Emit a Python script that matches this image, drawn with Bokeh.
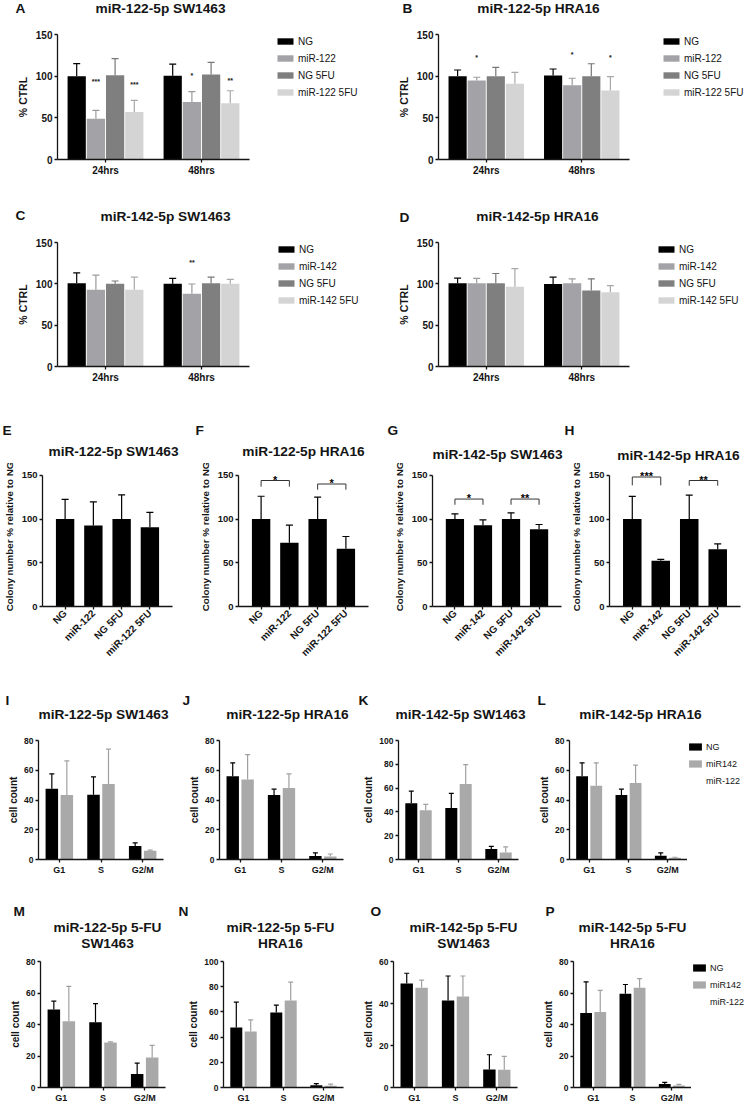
import math
from bokeh.plotting import figure
from bokeh.models import (FactorRange, Range1d, FixedTicker, ColumnDataSource,
                          Label, Legend, LegendItem)
from bokeh.transform import dodge
from bokeh.layouts import column, row
from bokeh.core.properties import value
from bokeh.embed import file_html
from bokeh.resources import INLINE

FONT = "Liberation Sans"
INK = "#141414"
TOTAL_W = 745
TS = 13.7  # title font size

# ======================= DATA =======================
time_groups = ["24hrs", "48hrs"]
series_122 = ["NG", "miR-122", "NG 5FU", "miR-122 5FU"]
series_142 = ["NG", "miR-142", "NG 5FU", "miR-142 5FU"]
series_colors = ["#000000", "#a3a3a7", "#7f7f7f", "#d4d4d4"]
whisker_colors = ["#000000", "#9b9b9f", "#777777", "#a9a9a9"]

# MTT panels (rows = series NG, miR, NG 5FU, miR 5FU ; columns = 24hrs, 48hrs)
A_mean = [[100, 100.5], [49, 69], [101, 102], [57, 67.5]]
A_upper = [[115, 114.5], [59, 81.5], [121, 116.5], [71, 82.5]]
A_star_group = ["24hrs", "24hrs", "48hrs", "48hrs"]
A_star_series = [1, 3, 1, 3]
A_star_text = ["***", "***", "*", "**"]
A_star_y = [93.5, 90, 100.5, 94.5]

B_mean = [[100, 100.7], [94.7, 89.2], [100, 100], [90.8, 82.9]]
B_upper = [[107.4, 108.6], [98.7, 97.5], [110.5, 114.9], [104.6, 99.5]]
B_star_group = ["24hrs", "48hrs", "48hrs"]
B_star_series = [1, 1, 3]
B_star_text = ["*", "*", "*"]
B_star_y = [123, 126, 122.5]

C_mean = [[100.6, 100.2], [92.7, 88], [100.2, 100.6], [92.7, 100.2]]
C_upper = [[113.2, 106.5], [110.5, 99.8], [103.4, 108.1], [108.1, 105.3]]
C_star_group = ["48hrs"]
C_star_series = [1]
C_star_text = ["**"]
C_star_y = [126]

D_mean = [[100.6, 99.8], [100.6, 100.6], [100.6, 91.9], [96.6, 89.9]]
D_upper = [[106.9, 108.1], [106.5, 106.1], [112.5, 106.1], [118.4, 97.8]]
D_star_group = []
D_star_series = []
D_star_text = []
D_star_y = []

# Colony panels
E_mean = [100, 92.5, 100, 90.6]
E_upper = [122.5, 119.5, 127.5, 107.5]
F_mean = [100, 73, 100, 66]
F_upper = [126, 93, 125, 80]
F_br_left = ["NG", "NG 5FU"]
F_br_right = ["miR-122", "miR-122 5FU"]
F_br_y = [144, 140]
F_br_drop = [137, 133.5]
F_br_text = ["*", "*"]
G_mean = [100, 92.9, 100, 88.3]
G_upper = [105.9, 99, 107.1, 93.7]
G_br_left = ["NG", "NG 5FU"]
G_br_right = ["miR-142", "miR-142 5FU"]
G_br_y = [122.8, 122.8]
G_br_drop = [116.3, 116.3]
G_br_text = ["*", "**"]
H_mean = [100, 52.3, 100, 65.3]
H_upper = [125.9, 53.8, 127.4, 71.5]
H_br_left = ["NG", "NG 5FU"]
H_br_right = ["miR-142", "miR-142 5FU"]
H_br_y = [148, 144]
H_br_drop = [138.5, 138]
H_br_text = ["***", "**"]

# Cell cycle panels
cycle_phases = ["G1", "S", "G2/M"]
cycle_legend = ["NG", "miR142", "miR-122"]
cycle_colors = ["#000000", "#a9a9a9"]
cycle_whiskers = ["#000000", "#a0a0a0"]
I_NG = [47.5, 43.5, 9.0]
I_NG_up = [57.5, 55.5, 11.2]
I_mir = [43.3, 50.8, 5.8]
I_mir_up = [66.3, 74.2, 6.3]
J_NG = [56.0, 43.3, 2.3]
J_NG_up = [65.0, 47.3, 4.5]
J_mir = [53.8, 48.0, 2.0]
J_mir_up = [70.5, 57.5, 3.7]
K_NG = [47.3, 43.3, 8.8]
K_NG_up = [57.5, 55.5, 11.0]
K_mir = [41.3, 63.5, 5.8]
K_mir_up = [46.3, 79.7, 10.6]
L_NG = [56.0, 43.3, 2.5]
L_NG_up = [65.0, 47.3, 4.5]
L_mir = [49.5, 51.5, 1.2]
L_mir_up = [65.0, 63.5, 1.5]
M_NG = [49.5, 41.5, 8.5]
M_NG_up = [54.8, 53.3, 15.5]
M_mir = [42.0, 28.5, 19.0]
M_mir_up = [64.2, 29.0, 26.7]
N_NG = [47.6, 59.6, 1.8]
N_NG_up = [67.8, 65.4, 3.1]
N_mir = [44.5, 69.0, 1.4]
N_mir_up = [53.6, 83.6, 2.6]
O_NG = [49.5, 41.4, 8.6]
O_NG_up = [54.4, 53.1, 15.6]
O_mir = [47.5, 43.3, 8.4]
O_mir_up = [51.1, 53.1, 14.8]
P_NG = [47.3, 59.5, 2.2]
P_NG_up = [67.1, 65.4, 3.3]
P_mir = [47.9, 63.4, 1.3]
P_mir_up = [61.7, 69.1, 2.0]

# ======================= HELPERS =======================
def make_fig(geom, factors, ymax, ystep, pad=0.0, tick_size="10px",
             xlab_size="10px", ylabel="", ylabel_size="10.5px", axis_top=None):
    w, h, left, right, top, bottom = geom
    p = figure(width=w, height=h,
               x_range=FactorRange(factors=list(factors), range_padding=pad,
                                   range_padding_units="absolute"),
               y_range=Range1d(0, ymax),
               min_border_left=left, min_border_right=right,
               min_border_top=top, min_border_bottom=bottom,
               output_backend="svg", toolbar_location=None, tools="")
    p.outline_line_color = None
    p.xgrid.visible = False
    p.ygrid.visible = False
    p.background_fill_color = "white"
    p.border_fill_color = "white"
    for ax in (p.xaxis[0], p.yaxis[0]):
        ax.axis_line_color = INK
        ax.axis_line_width = 1.3
        ax.major_tick_line_color = INK
        ax.major_tick_line_width = 1.3
        ax.major_tick_in = 0
        ax.major_tick_out = 3
        ax.minor_tick_line_color = None
        ax.major_label_text_font = FONT
        ax.major_label_text_font_style = "bold"
        ax.major_label_text_color = INK
        ax.major_label_standoff = 2
        ax.axis_label_text_font = FONT
        ax.axis_label_text_font_style = "bold"
        ax.axis_label_text_color = INK
    top_tick = ymax if axis_top is None else axis_top
    p.yaxis[0].ticker = FixedTicker(ticks=list(range(0, top_tick + 1, ystep)))
    p.yaxis[0].bounds = (0, top_tick)
    p.yaxis[0].major_label_text_font_size = tick_size
    p.xaxis[0].major_label_text_font_size = xlab_size
    p.yaxis[0].axis_label = ylabel
    p.yaxis[0].axis_label_text_font_size = ylabel_size
    p.yaxis[0].axis_label_standoff = 4
    return p


def blank_fig(w, h, left=0, top=0):
    p = figure(width=w, height=h, x_range=Range1d(0, 1), y_range=Range1d(0, 1),
               x_axis_type=None, y_axis_type=None,
               min_border_left=left, min_border_top=top,
               min_border_right=0, min_border_bottom=0,
               output_backend="svg", toolbar_location=None, tools="")
    p.outline_line_color = None
    p.background_fill_color = "white"
    p.border_fill_color = "white"
    return p


def header(h, items):
    """A strip above a row of charts holding panel letters and titles."""
    p = figure(width=TOTAL_W, height=h, x_range=Range1d(0, TOTAL_W), y_range=Range1d(h, 0),
               x_axis_type=None, y_axis_type=None, min_border=0,
               output_backend="svg", toolbar_location=None, tools="")
    p.outline_line_color = None
    p.background_fill_color = "white"
    p.border_fill_color = "white"
    for txt, x, y, size, align in items:
        p.add_layout(Label(x=x, y=y, text=txt, text_font=FONT, text_font_size=f"{size}px",
                           text_font_style="bold", text_align=align,
                           text_baseline="middle", text_color=INK))
    return p


def legend_fig(w, h, ox, oy, labels, colors, font_size, glyph_w, glyph_h, label_h, spacing):
    p = blank_fig(w, h, ox, oy)
    items = []
    for lab, col in zip(labels, colors):
        # swatch-only renderer: its single bar lies outside the (empty) frame range
        r = p.vbar(x=[5], top=[1], bottom=[0], width=0.1, fill_color=col, line_color=None)
        items.append(LegendItem(label=lab, renderers=[r]))
    lg = Legend(items=items, location="top_left", orientation="vertical",
                glyph_width=glyph_w, glyph_height=glyph_h, label_height=label_h,
                spacing=spacing, padding=0, margin=0, label_standoff=3,
                border_line_color=None, background_fill_alpha=0,
                label_text_font=FONT, label_text_font_size=font_size,
                label_text_color=INK)
    p.add_layout(lg)
    return p


def bars(p, cats, means, uppers, colors, wcolors, offsets, width, cap):
    for i in range(len(means)):
        src = ColumnDataSource(dict(c=list(cats), m=means[i], u=uppers[i]))
        xd = dodge("c", offsets[i], range=p.x_range)
        p.vbar(x=xd, top="m", bottom=0, width=width, source=src,
               fill_color=colors[i], line_color=None)
        p.segment(x0=xd, y0="m", x1=xd, y1="u", source=src,
                  line_color=wcolors[i], line_width=1.2)
        p.scatter(x=xd, y="u", source=src, marker="dash", size=cap,
                  line_color=wcolors[i], line_width=1.2)


four_offsets = [-0.3, -0.1, 0.1, 0.3]


def mtt_panel(geom, means, uppers, sg, ss, st, sy):
    p = make_fig(geom, time_groups, 150, 50, ylabel="% CTRL")
    bars(p, time_groups, means, uppers, series_colors, whisker_colors,
         four_offsets, 0.19, 7)
    for k in range(4):
        idx = [i for i in range(len(ss)) if ss[i] == k]
        if idx:
            src = ColumnDataSource(dict(c=[sg[i] for i in idx], y=[sy[i] for i in idx],
                                        t=[st[i] for i in idx]))
            p.text(x=dodge("c", four_offsets[k], range=p.x_range), y="y", text="t",
                   source=src, text_font=value(FONT), text_font_size=value("7px"),
                   text_font_style="bold", text_align="center", text_baseline="middle",
                   text_color=INK)
    return p


def colony_panel(geom, cats, mean, upper, bl=None, br=None, by=None, bd=None, bt=None):
    # y range reaches a little above the 150 axis end so the stars are not cut off
    p = make_fig(geom, cats, 160, 50, pad=0.3, tick_size="9.5px", xlab_size="10px",
                 ylabel="Colony number % relative to NG", ylabel_size="9.8px", axis_top=150)
    p.xaxis[0].major_label_orientation = math.pi / 4
    bars(p, cats, [mean], [upper], ["#000000"], ["#000000"], [0.0], 0.65, 7)
    if bl:
        src = ColumnDataSource(dict(l=bl, r=br, y=by, d=bd, t=bt))
        p.segment(x0="l", y0="y", x1="r", y1="y", source=src, line_color="#333333", line_width=1)
        p.segment(x0="l", y0="y", x1="l", y1="d", source=src, line_color="#333333", line_width=1)
        p.segment(x0="r", y0="y", x1="r", y1="d", source=src, line_color="#333333", line_width=1)
        p.text(x=dodge("l", 0.5, range=p.x_range), y="y", text="t", source=src,
               text_font=value(FONT), text_font_size=value("11px"),
               text_font_style="bold", text_align="center", text_baseline="alphabetic",
               text_color="#000000", y_offset=-1)
    return p


def cycle_panel(geom, ymax, ng, ng_up, mir, mir_up):
    p = make_fig(geom, cycle_phases, ymax, 20, tick_size="8.5px", xlab_size="9px",
                 ylabel="cell count", ylabel_size="10px")
    p.yaxis[0].axis_label_standoff = 2
    bars(p, cycle_phases, [ng, mir], [ng_up, mir_up], cycle_colors, cycle_whiskers,
         [-0.18, 0.18], 0.3, 5)
    return p


# ======================= PANELS =======================
# row A-B
hAB = header(25, [("A", 15, 8, TS, "left"), ("miR-122-5p SW1463", 160, 8, TS, "center"),
                  ("B", 402, 8, TS, "left"), ("miR-122-5p HRA16", 538, 8, TS, "center")])
pA = mtt_panel((254, 170, 57, 5, 7, 36), A_mean, A_upper,
               A_star_group, A_star_series, A_star_text, A_star_y)
lA = legend_fig(116, 170, 21, 9, series_122, series_colors, "10px", 20, 8, 14, 3)
pB = mtt_panel((264, 170, 68, 5, 7, 36), B_mean, B_upper,
               B_star_group, B_star_series, B_star_text, B_star_y)
lB = legend_fig(111, 170, 27, 7, series_122, series_colors, "10px", 20, 8, 14, 3)

# row C-D
hCD = header(38, [("C", 15, 20, TS, "left"), ("miR-142-5p SW1463", 165, 21, TS, "center"),
                  ("D", 399, 22, TS, "left"), ("miR-142-5p HRA16", 537, 21, TS, "center")])
pC = mtt_panel((254, 167, 57, 5, 7, 34), C_mean, C_upper,
               C_star_group, C_star_series, C_star_text, C_star_y)
lC = legend_fig(116, 167, 22, 9, series_142, series_colors, "10px", 20, 8, 14, 3)
pD = mtt_panel((264, 167, 68, 5, 7, 34), D_mean, D_upper,
               D_star_group, D_star_series, D_star_text, D_star_y)
lD = legend_fig(111, 167, 22, 9, series_142, series_colors, "10px", 20, 8, 14, 3)

# row E-H
hEH = header(63, [("E", 2, 30, TS, "left"), ("miR-122-5p SW1463", 113, 51, TS, "center"),
                  ("F", 195, 30, TS, "left"), ("miR-122-5p HRA16", 303, 51, TS, "center"),
                  ("G", 387, 30, TS, "left"), ("miR-142-5p SW1463", 497, 54, TS, "center"),
                  ("H", 564, 30, TS, "left"), ("miR-142-5p HRA16", 678, 55, TS, "center")])
pE = colony_panel((196, 229, 39, 24, 3, 86), series_122, E_mean, E_upper)
pF = colony_panel((194, 229, 39, 22, 3, 86), series_122, F_mean, F_upper,
                  F_br_left, F_br_right, F_br_y, F_br_drop, F_br_text)
pG = colony_panel((177, 229, 40, 6, 3, 86), series_142, G_mean, G_upper,
                  G_br_left, G_br_right, G_br_y, G_br_drop, G_br_text)
pH = colony_panel((178, 229, 40, 5, 3, 86), series_142, H_mean, H_upper,
                  H_br_left, H_br_right, H_br_y, H_br_drop, H_br_text)

# row I-L
hIL = header(36, [("I", 5, 8, TS, "left"), ("miR-122-5p SW1463", 103, 22, TS, "center"),
                  ("J", 182, 8, TS, "left"), ("miR-122-5p HRA16", 287, 22, TS, "center"),
                  ("K", 358, 8, TS, "left"), ("miR-142-5p SW1463", 460, 22, TS, "center"),
                  ("L", 537, 8, TS, "left"), ("miR-142-5p HRA16", 640, 22, TS, "center")])
pI = cycle_panel((186, 174, 38, 23, 7, 43), 80, I_NG, I_NG_up, I_mir, I_mir_up)
pJ = cycle_panel((174, 174, 30, 17, 7, 43), 80, J_NG, J_NG_up, J_mir, J_mir_up)
pK = cycle_panel((176, 174, 32, 18, 7, 43), 100, K_NG, K_NG_up, K_mir, K_mir_up)
pL = cycle_panel((151, 174, 29, 0, 7, 43), 80, L_NG, L_NG_up, L_mir, L_mir_up)
lL = legend_fig(58, 174, 0, 12, cycle_legend, cycle_colors + ["white"], "9px", 16, 9, 13, 4)

# row M-P
hMP = header(51, [("M", 13, 9, TS, "left"), ("miR-122-5p 5-FU", 107, 25, TS, "center"),
                  ("SW1463", 107, 41, TS, "center"),
                  ("N", 178, 9, TS, "left"), ("miR-122-5p 5-FU", 280, 25, TS, "center"),
                  ("HRA16", 280, 41, TS, "center"),
                  ("O", 370, 9, TS, "left"), ("miR-142-5p 5-FU", 463, 25, TS, "center"),
                  ("SW1463", 463, 41, TS, "center"),
                  ("P", 545, 9, TS, "left"), ("miR-142-5p 5-FU", 632, 25, TS, "center"),
                  ("HRA16", 632, 41, TS, "center")])
pM = cycle_panel((185, 152, 40, 20, 7, 18), 80, M_NG, M_NG_up, M_mir, M_mir_up)
pN = cycle_panel((175, 152, 32, 17, 7, 18), 100, N_NG, N_NG_up, N_mir, N_mir_up)
pO = cycle_panel((180, 152, 32, 23, 7, 18), 60, O_NG, O_NG_up, O_mir, O_mir_up)
pP = cycle_panel((151, 152, 33, 0, 7, 18), 80, P_NG, P_NG_up, P_mir, P_mir_up)
lP = legend_fig(54, 152, 0, 8, cycle_legend, cycle_colors + ["white"], "9px", 16, 9, 13, 4)

layout = column(hAB, row(pA, lA, pB, lB), hCD, row(pC, lC, pD, lD),
                hEH, row(pE, pF, pG, pH),
                hIL, row(pI, pJ, pK, pL, lL), hMP, row(pM, pN, pO, pP, lP))

open("out.html", "w").write(file_html(layout, INLINE))
